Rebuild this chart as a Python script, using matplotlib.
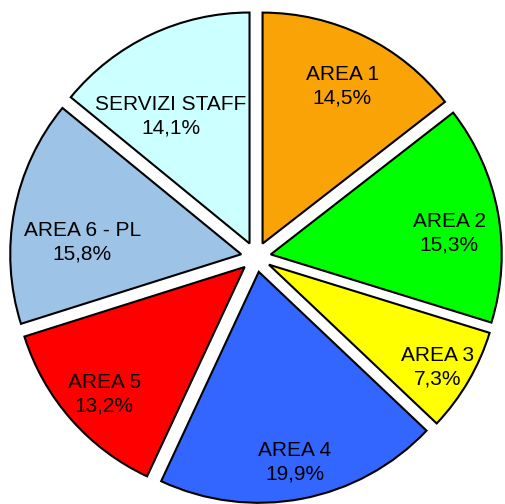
import matplotlib
matplotlib.use("Agg")
import matplotlib.pyplot as plt
import numpy as np

plt.rcParams['font.family'] = ['Liberation Sans', 'DejaVu Sans']

labels = ['AREA 1', 'AREA 2', 'AREA 3', 'AREA 4', 'AREA 5', 'AREA 6 - PL', 'SERVIZI STAFF']
values = [14.5, 15.3, 7.3, 19.9, 13.2, 15.8, 14.1]
colors = ['#FAA307', '#00FF00', '#FFFF00', '#3366FF', '#FF0000', '#9DC3E6', '#CCFFFF']

# label placement tweaks (radius from wedge centre, angle nudge in degrees)
label_r = [0.77, 0.78, 0.85, 0.83, 0.815, 0.69, 0.655]
label_da = [-0.5, -3, -0.5, 0, 0.5, 6, 6]

fig = plt.figure(figsize=(5.05, 5.04), dpi=100)
ax = fig.add_axes([0, 0, 1, 1])

explode = [0.065] * len(values)
wedges, _ = ax.pie(values, colors=colors, explode=explode, startangle=90,
                   counterclock=False, radius=1.0,
                   wedgeprops=dict(edgecolor='black', linewidth=1.5))

for w, lab, v, r, da in zip(wedges, labels, values, label_r, label_da):
    ang = np.deg2rad((w.theta1 + w.theta2) / 2 + da)
    cx, cy = w.center
    ax.text(cx + r * np.cos(ang), cy + r * np.sin(ang) - 0.008,
            f"{lab}\n{str(v).replace('.', ',')}%",
            ha='center', va='center', fontsize=15, linespacing=1.3)

ax.set_xlim(-1.108, 1.078)
ax.set_ylim(-1.069, 1.113)
ax.set_aspect('equal')
ax.axis('off')

fig.savefig('out.png', dpi=100)
